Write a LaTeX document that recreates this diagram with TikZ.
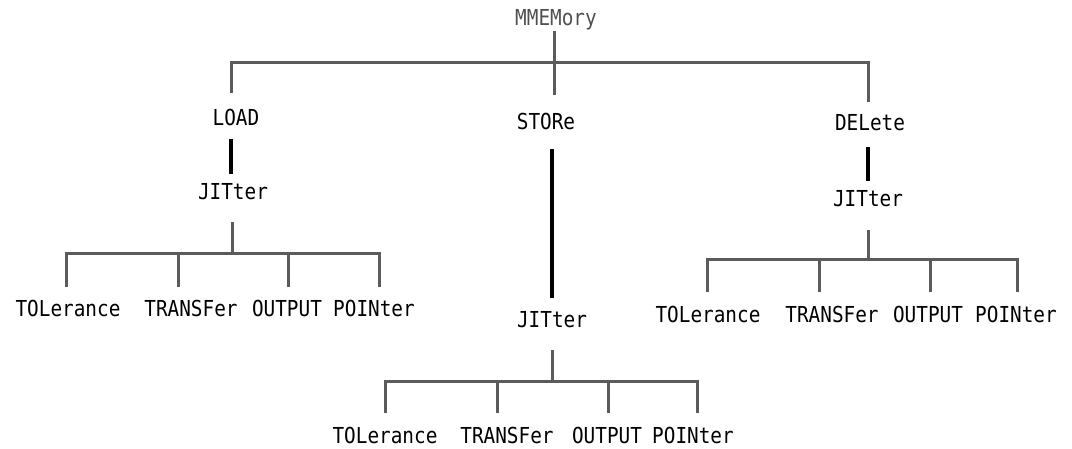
\documentclass[tikz,border=0pt]{standalone}
\usepackage{fontspec}
\newfontfamily\monofnt[FakeStretch=0.88]{DejaVu Sans Mono}
\definecolor{lngray}{HTML}{5B5B5B}
\definecolor{txgray}{HTML}{505050}
\tikzset{
  lbl/.style={font=\monofnt\fontsize{22}{24}\selectfont, inner sep=0pt,
              text height=16pt, text depth=0pt, anchor=base, text=black},
  conn/.style={draw=lngray, line width=3pt, line join=miter},
  stem/.style={draw=black, line width=3.4pt}
}
\begin{document}
\begin{tikzpicture}[x=1pt,y=-1pt]
\useasboundingbox (0,0) rectangle (1072,449);
% level 0/1
\node[lbl, text=txgray] (mm) at (556,26) {MMEMory};
\node[lbl] (load) at (236,126) {LOAD};
\node[lbl] (store) at (546,130) {STORe};
\node[lbl] (del) at (870,131) {DELete};
% JITter nodes
\node[lbl] (jl) at (233,200) {JITter};
\node[lbl] (jm) at (552,328) {JITter};
\node[lbl] (jr) at (868,207) {JITter};
% leaves left
\node[lbl] (tl1) at (68,317) {TOLerance};
\node[lbl] (tl2) at (191,317) {TRANSFer};
\node[lbl] (tl3) at (287,317) {OUTPUT};
\node[lbl] (tl4) at (374,317) {POINter};
% leaves middle
\node[lbl] (tm1) at (385,443) {TOLerance};
\node[lbl] (tm2) at (507,443) {TRANSFer};
\node[lbl] (tm3) at (607,443) {OUTPUT};
\node[lbl] (tm4) at (693,443) {POINter};
% leaves right
\node[lbl] (tr1) at (708,323) {TOLerance};
\node[lbl] (tr2) at (832,323) {TRANSFer};
\node[lbl] (tr3) at (928,323) {OUTPUT};
\node[lbl] (tr4) at (1016,323) {POINter};
% bar coordinates
\coordinate (J0) at (554,63);
\coordinate (L0) at (231,63);
\coordinate (R0) at (868,63);
\coordinate (lj) at (232,254);
\coordinate (l1) at (66,254);
\coordinate (l2) at (178,254);
\coordinate (l3) at (288,254);
\coordinate (l4) at (379,254);
\coordinate (mj) at (552,381);
\coordinate (m1) at (385,381);
\coordinate (m2) at (497,381);
\coordinate (m3) at (608,381);
\coordinate (m4) at (697,381);
\coordinate (rj) at (868,260);
\coordinate (r1) at (707,260);
\coordinate (r2) at (819,260);
\coordinate (r3) at (930,260);
\coordinate (r4) at (1017,260);
% top level
\draw[conn, shorten <=5pt, shorten >=19pt] (mm.south -| J0) -- (store.north -| J0);
\draw[conn, shorten <=17pt, shorten >=13pt] (load.north -| L0) -- (L0) -- (R0) -- (del.north -| R0);
% stems to JITter
\draw[stem, shorten <=13pt, shorten >=10pt] (load.south -| L0) -- (jl.north -| L0);
\draw[stem, shorten <=19pt, shorten >=14pt] (store.south -| mj) -- (jm.north -| mj);
\draw[stem, shorten <=16pt, shorten >=10pt] (del.south -| R0) -- (jr.north -| R0);
% left subtree
\draw[conn, shorten <=22pt] (jl.south -| lj) -- (lj);
\draw[conn, shorten <=14pt, shorten >=14pt] (tl1.north -| l1) -- (l1) -- (l4) -- (tl4.north -| l4);
\draw[conn, shorten >=14pt] (l2) -- (tl2.north -| l2);
\draw[conn, shorten >=14pt] (l3) -- (tl3.north -| l3);
% middle subtree
\draw[conn, shorten <=22pt] (jm.south -| mj) -- (mj);
\draw[conn, shorten <=14pt, shorten >=14pt] (tm1.north -| m1) -- (m1) -- (m4) -- (tm4.north -| m4);
\draw[conn, shorten >=14pt] (m2) -- (tm2.north -| m2);
\draw[conn, shorten >=14pt] (m3) -- (tm3.north -| m3);
% right subtree
\draw[conn, shorten <=23pt] (jr.south -| rj) -- (rj);
\draw[conn, shorten <=15pt, shorten >=15pt] (tr1.north -| r1) -- (r1) -- (r4) -- (tr4.north -| r4);
\draw[conn, shorten >=15pt] (r2) -- (tr2.north -| r2);
\draw[conn, shorten >=15pt] (r3) -- (tr3.north -| r3);
\end{tikzpicture}
\end{document}
